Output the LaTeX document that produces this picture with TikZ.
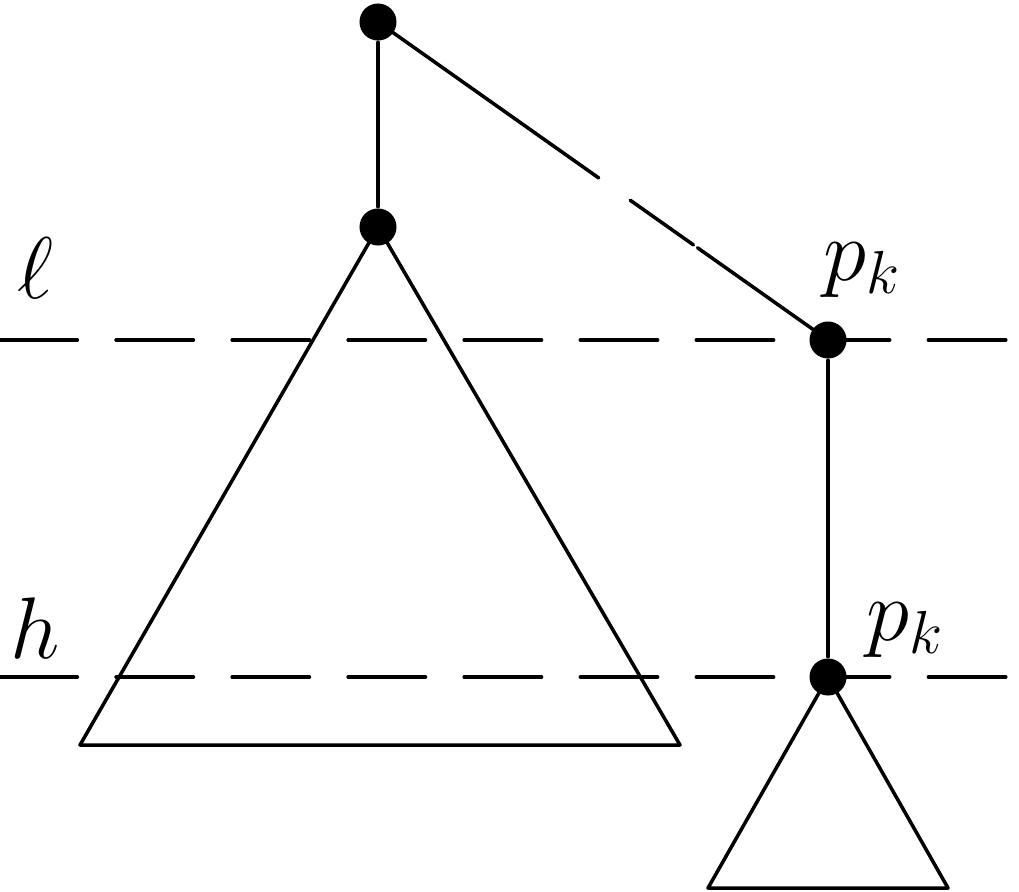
\documentclass[tikz,border=0pt]{standalone}
\usetikzlibrary{calc}
\tikzset{
	vertex/.style={circle,fill=black,inner sep=0pt,minimum size=0.37cm},
	level line/.style={dashed,dash pattern=on 22pt off 11pt,line width=1pt},
	lbl/.style={font=\fontsize{26}{30}\selectfont},
}
\begin{document}
\begin{tikzpicture}[x=0.01cm,y=-0.01cm,line width=1pt,line cap=round,line join=round]
	\useasboundingbox (0,0) rectangle (1019,891);
	\draw[level line] (0,340) -- (1019,340);
	\draw[level line] (0,677) -- (1019,677);
	
	\node[vertex] (root) at (378,22) {};
	\node[vertex] (c) at (378,227) {};
	\node[vertex] (p1) at (828,340) {};
	\node[vertex] (p2) at (828,677) {};
	
	\draw (root) -- (c);
	\draw (root.center) -- ($(root.center)!0.35!(p1.center)$);
	\draw[dash pattern=on 22pt off 11pt] ($(root.center)!0.35!(p1.center)$) -- ($(root.center)!0.71!(p1.center)$);
	\draw ($(root.center)!0.71!(p1.center)$) -- (p1.center);
	\draw (p1) -- (p2);
	
	\draw (c.center) -- (80,745) -- (680,745) -- cycle;
	\draw (p2.center) -- (708,888) -- (948,888) -- cycle;
	
	\node[lbl] (ell) at (35,268) {$\ell$};
	\node[lbl] (h) at (35,628) {$h$};
	\node[lbl] (pk1) at (862,270) {$p_k$};
	\node[lbl] (pk2) at (905,630) {$p_k$};
\end{tikzpicture}
\end{document}
